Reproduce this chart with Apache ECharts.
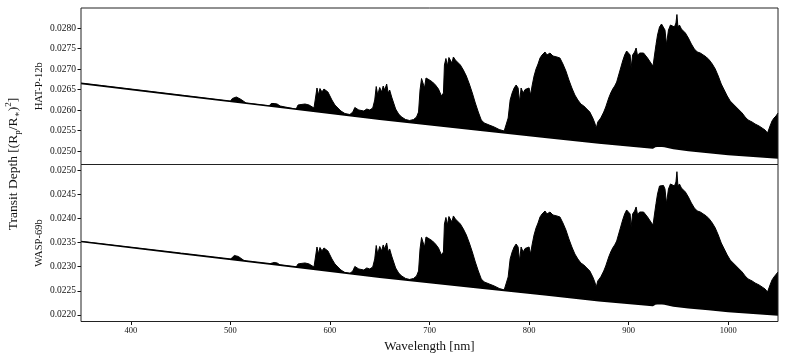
<!DOCTYPE html>
<html>
<head>
<meta charset="utf-8">
<script src="https://cdn.jsdelivr.net/npm/echarts@6/dist/echarts.min.js"></script>
<style>
html,body{margin:0;padding:0;background:#fff;}
#chart{width:789px;height:356px;}
</style>
</head>
<body>
<div id="chart"></div>
<script>
// ---- data ----
const wavelength = [350, 450, 500, 502, 504, 506, 508, 510, 513, 516, 539, 541, 544, 547, 550, 552, 566, 568, 569.5, 571, 573, 575, 577, 579, 581, 584, 587, 588.5, 590, 592, 594, 596, 598, 600, 602, 605, 608, 611, 615, 620, 623, 625, 627, 629, 631, 634, 637, 640, 643, 645, 646.5, 648, 650, 652, 653.5, 655, 657, 658.5, 660, 662, 664, 666, 669, 672, 676, 680, 684, 687, 689, 690.5, 692, 693.5, 695, 696.5, 698, 700, 703, 706, 709, 712, 714, 715, 716.5, 718, 719.5, 721, 722.5, 724, 726, 728, 731, 734, 737, 740, 743, 746, 749, 752, 755, 760, 765, 770, 775, 777, 779, 781, 783, 785, 787, 789, 790.5, 792, 794, 796, 798, 800, 801.5, 803, 805, 807, 809, 811, 813, 816, 818, 821, 824, 826, 828, 831, 834, 837, 840, 843, 846, 849, 852, 855, 858, 861, 864, 866, 867.5, 869, 872, 875, 877, 880, 882, 884, 886, 888, 890, 892, 894, 896, 898, 900, 901.5, 902.5, 904, 906, 907.5, 909, 911, 913, 915, 917, 919, 921, 923, 924.5, 926, 927.5, 929, 931, 933, 935, 936.5, 938, 940, 942, 944, 946, 947.5, 948.5, 949.5, 951, 953, 955, 957, 960, 963, 966, 969, 972, 975, 978, 981, 984, 987, 990, 993, 996, 999, 1002, 1005, 1008, 1011, 1014, 1017, 1020, 1024, 1027, 1031, 1034, 1037, 1039.5, 1042, 1044, 1046, 1048, 1050];

const hatEnvelope = [0.026651, 0.026359, 0.026212, 0.026281, 0.026329, 0.026317, 0.026305, 0.026268, 0.026220, 0.026166, 0.026100, 0.026159, 0.026159, 0.026146, 0.026098, 0.026061, 0.026020, 0.026122, 0.026159, 0.026134, 0.026171, 0.026146, 0.026159, 0.026122, 0.026098, 0.026049, 0.026537, 0.026366, 0.026524, 0.026439, 0.026512, 0.026524, 0.026439, 0.026342, 0.026244, 0.026122, 0.026049, 0.025976, 0.025915, 0.025890, 0.025951, 0.026061, 0.026073, 0.026000, 0.026037, 0.025976, 0.026024, 0.026000, 0.026049, 0.026244, 0.026573, 0.026366, 0.026549, 0.026439, 0.026585, 0.026488, 0.026634, 0.026415, 0.026488, 0.026317, 0.026171, 0.026024, 0.025903, 0.025829, 0.025768, 0.025744, 0.025768, 0.025829, 0.025951, 0.026488, 0.026768, 0.026732, 0.026537, 0.026781, 0.026756, 0.026732, 0.026683, 0.026610, 0.026512, 0.026342, 0.026415, 0.027098, 0.027256, 0.027073, 0.027281, 0.027256, 0.027146, 0.027293, 0.027220, 0.027195, 0.027098, 0.026976, 0.026829, 0.026634, 0.026415, 0.026171, 0.025951, 0.025756, 0.025683, 0.025634, 0.025585, 0.025524, 0.025488, 0.025463, 0.025805, 0.026244, 0.026415, 0.026537, 0.026610, 0.026537, 0.026195, 0.026537, 0.026415, 0.026500, 0.026464, 0.026537, 0.026366, 0.026585, 0.026829, 0.027000, 0.027122, 0.027268, 0.027342, 0.027415, 0.027342, 0.027390, 0.027317, 0.027354, 0.027293, 0.027268, 0.027122, 0.026951, 0.026732, 0.026537, 0.026366, 0.026244, 0.026146, 0.026098, 0.026024, 0.025951, 0.025805, 0.025683, 0.025561, 0.025707, 0.025805, 0.025951, 0.026073, 0.026293, 0.026415, 0.026512, 0.026585, 0.026683, 0.026854, 0.027024, 0.027195, 0.027342, 0.027439, 0.027439, 0.027342, 0.027024, 0.027342, 0.027415, 0.027512, 0.027317, 0.027390, 0.027366, 0.027390, 0.027342, 0.027268, 0.027195, 0.027122, 0.027073, 0.027342, 0.027598, 0.027829, 0.028024, 0.028098, 0.028085, 0.027951, 0.027598, 0.027951, 0.028073, 0.028049, 0.028024, 0.028122, 0.028329, 0.028024, 0.028073, 0.027976, 0.028000, 0.027878, 0.027756, 0.027610, 0.027488, 0.027415, 0.027390, 0.027342, 0.027293, 0.027220, 0.027122, 0.027000, 0.026829, 0.026634, 0.026488, 0.026342, 0.026220, 0.026146, 0.026073, 0.026000, 0.025927, 0.025829, 0.025756, 0.025707, 0.025659, 0.025610, 0.025561, 0.025512, 0.025439, 0.025610, 0.025732, 0.025805, 0.025854, 0.025927];

const waspEnvelope = [0.023521, 0.023274, 0.023151, 0.023190, 0.023231, 0.023221, 0.023211, 0.023180, 0.023138, 0.023112, 0.023057, 0.023087, 0.023087, 0.023076, 0.023035, 0.023024, 0.022989, 0.023056, 0.023087, 0.023066, 0.023097, 0.023076, 0.023087, 0.023056, 0.023035, 0.022993, 0.023407, 0.023262, 0.023397, 0.023325, 0.023387, 0.023397, 0.023325, 0.023242, 0.023159, 0.023056, 0.022993, 0.022931, 0.022880, 0.022859, 0.022911, 0.023004, 0.023014, 0.022952, 0.022983, 0.022931, 0.022973, 0.022952, 0.022993, 0.023159, 0.023438, 0.023262, 0.023418, 0.023325, 0.023449, 0.023366, 0.023490, 0.023304, 0.023366, 0.023221, 0.023097, 0.022973, 0.022869, 0.022807, 0.022756, 0.022735, 0.022756, 0.022807, 0.022911, 0.023366, 0.023604, 0.023573, 0.023407, 0.023614, 0.023593, 0.023573, 0.023531, 0.023469, 0.023387, 0.023242, 0.023304, 0.023883, 0.024018, 0.023862, 0.024038, 0.024018, 0.023925, 0.024049, 0.023987, 0.023966, 0.023883, 0.023780, 0.023656, 0.023490, 0.023304, 0.023097, 0.022911, 0.022745, 0.022683, 0.022642, 0.022600, 0.022549, 0.022518, 0.022497, 0.022787, 0.023159, 0.023304, 0.023407, 0.023469, 0.023407, 0.023118, 0.023407, 0.023304, 0.023376, 0.023345, 0.023407, 0.023262, 0.023449, 0.023656, 0.023800, 0.023904, 0.024028, 0.024090, 0.024152, 0.024090, 0.024131, 0.024069, 0.024100, 0.024049, 0.024028, 0.023904, 0.023759, 0.023573, 0.023407, 0.023262, 0.023159, 0.023076, 0.023035, 0.022973, 0.022911, 0.022787, 0.022683, 0.022580, 0.022704, 0.022787, 0.022911, 0.023014, 0.023200, 0.023304, 0.023387, 0.023449, 0.023531, 0.023676, 0.023821, 0.023966, 0.024090, 0.024173, 0.024173, 0.024090, 0.023821, 0.024090, 0.024152, 0.024235, 0.024069, 0.024131, 0.024111, 0.024131, 0.024090, 0.024028, 0.023966, 0.023904, 0.023862, 0.024090, 0.024307, 0.024504, 0.024669, 0.024690, 0.024680, 0.024607, 0.024307, 0.024607, 0.024711, 0.024690, 0.024669, 0.024752, 0.024965, 0.024669, 0.024711, 0.024628, 0.024649, 0.024545, 0.024442, 0.024318, 0.024214, 0.024152, 0.024131, 0.024090, 0.024049, 0.023987, 0.023904, 0.023800, 0.023656, 0.023490, 0.023366, 0.023242, 0.023138, 0.023076, 0.023014, 0.022952, 0.022890, 0.022807, 0.022745, 0.022704, 0.022662, 0.022621, 0.022580, 0.022538, 0.022476, 0.022621, 0.022725, 0.022787, 0.022828, 0.022890];

const baseWavelength = [350, 450, 550, 650, 751, 818, 870, 924, 926.5, 928, 931, 936, 945, 960, 980, 1000, 1050];
const hatBaseline = [0.026651, 0.026359, 0.026068, 0.025776, 0.025507, 0.025334, 0.025195, 0.025073, 0.025110, 0.025151, 0.025122, 0.025110, 0.025061, 0.025017, 0.024968, 0.024920, 0.024829];
const waspBaseline = [0.023521, 0.023274, 0.023030, 0.022784, 0.022559, 0.022414, 0.022298, 0.022197, 0.022228, 0.022263, 0.022238, 0.022228, 0.022188, 0.022153, 0.022114, 0.022074, 0.022000];

const xTicks = [400, 500, 600, 700, 800, 900, 1000];
const hatTicks = [0.0250, 0.0255, 0.0260, 0.0265, 0.0270, 0.0275, 0.0280];
const waspTicks = [0.0220, 0.0225, 0.0230, 0.0235, 0.0240, 0.0245, 0.0250];

const panelNames = ['HAT-P-12b', 'WASP-69b'];
const xTitle = 'Wavelength [nm]';

// ---- chart ----
const zip = (xs, ys) => xs.map((x, i) => [x, ys[i]]);
const FONT = '"Liberation Serif", "DejaVu Serif", serif';
const INK = '#111';

const chart = echarts.init(document.getElementById('chart'), null, {renderer: 'canvas'});

function yAxisFor(grid, min, max, ticks, name) {
  return {
    type: 'value', gridIndex: grid, min: min, max: max, scale: true,
    name: name, nameLocation: 'middle', nameGap: 36, nameMoveOverlap: false,
    nameTextStyle: {fontFamily: FONT, fontSize: 10.5, color: INK},
    axisLine: {show: false},
    splitLine: {show: false},
    axisTick: {show: true, inside: false, length: 3.5, customValues: ticks, lineStyle: {color: INK, width: 1}},
    axisLabel: {show: true, margin: 5, customValues: ticks, fontFamily: FONT, fontSize: 9.5, color: INK,
      formatter: v => Number(v).toFixed(4)}
  };
}

function envelopeSeries(idx, xs, ys) {
  return {
    type: 'line', xAxisIndex: idx, yAxisIndex: idx, data: zip(xs, ys),
    symbol: 'none', silent: true, z: 2,
    lineStyle: {color: '#000', width: 1},
    areaStyle: {color: '#000', opacity: 1, origin: 'start'}
  };
}
function baselineSeries(idx, xs, ys) {
  return {
    type: 'line', xAxisIndex: idx, yAxisIndex: idx, data: zip(xs, ys),
    symbol: 'none', silent: true, z: 3,
    lineStyle: {color: '#000', width: 1.7},
    areaStyle: {color: '#fff', opacity: 1, origin: 'start'}
  };
}

chart.setOption({
  animation: false,
  backgroundColor: '#fff',
  grid: [
    {left: 81, width: 697, top: 8, height: 156.5, show: true, z: 10,
     backgroundColor: 'transparent', borderColor: '#222', borderWidth: 1},
    {left: 81, width: 697, top: 164.5, height: 157, show: true, z: 10,
     backgroundColor: 'transparent', borderColor: '#222', borderWidth: 1}
  ],
  xAxis: [
    {type: 'value', gridIndex: 0, min: 350, max: 1050,
     axisLine: {show: false}, axisTick: {show: false}, axisLabel: {show: false}, splitLine: {show: false}},
    {type: 'value', gridIndex: 1, min: 350, max: 1050,
     name: xTitle, nameLocation: 'middle', nameGap: 19, nameMoveOverlap: false,
     nameTextStyle: {fontFamily: FONT, fontSize: 13, color: INK},
     axisLine: {show: false}, splitLine: {show: false},
     axisTick: {show: true, inside: false, length: 3.5, customValues: xTicks, lineStyle: {color: INK, width: 1}},
     axisLabel: {show: true, margin: 5, customValues: xTicks, fontFamily: FONT, fontSize: 8.5, color: INK,
       formatter: v => String(Math.round(v))}}
  ],
  yAxis: [
    yAxisFor(0, 0.024671, 0.028488, hatTicks, panelNames[0]),
    yAxisFor(1, 0.021865, 0.025114, waspTicks, panelNames[1])
  ],
  graphic: [{
    type: 'text', x: 13, y: 164, rotation: Math.PI / 2, silent: true,
    style: {
      text: '{a|Transit Depth [(R}{b|p}{a|/R}{b|∗}{a|)}{c|2}{a|]}',
      align: 'center', verticalAlign: 'middle',
      fill: INK, font: '13.5px ' + FONT,
      rich: {
        a: {fontFamily: FONT, fontSize: 13.5, lineHeight: 18, verticalAlign: 'middle', fill: INK},
        b: {fontFamily: FONT, fontSize: 9, lineHeight: 9, verticalAlign: 'bottom', fill: INK},
        c: {fontFamily: FONT, fontSize: 9, lineHeight: 9, verticalAlign: 'top', fill: INK}
      }
    }
  }],
  series: [
    envelopeSeries(0, wavelength, hatEnvelope),
    baselineSeries(0, baseWavelength, hatBaseline),
    envelopeSeries(1, wavelength, waspEnvelope),
    baselineSeries(1, baseWavelength, waspBaseline)
  ]
});
</script>
</body>
</html>
